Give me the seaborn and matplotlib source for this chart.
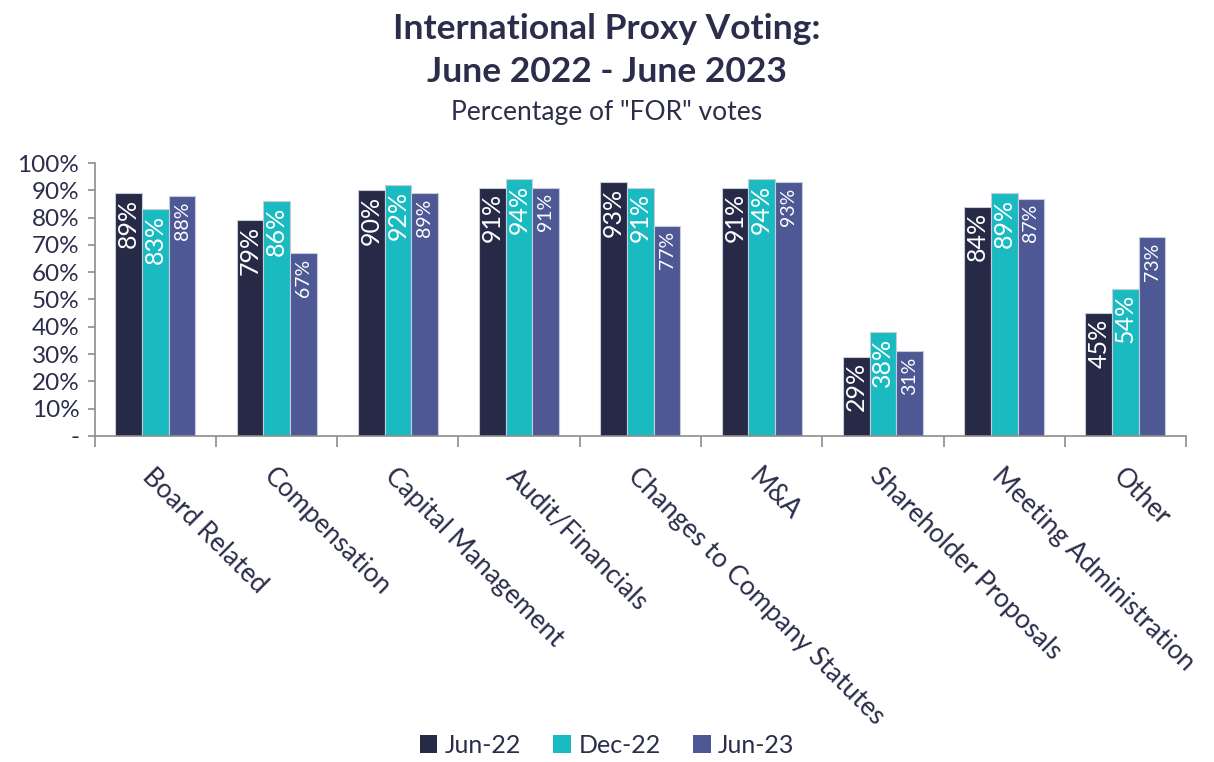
import matplotlib
matplotlib.use("Agg")
import matplotlib.pyplot as plt
import seaborn as sns
import pandas as pd
from matplotlib.ticker import FixedLocator

categories = ["Board Related", "Compensation", "Capital Management", "Audit/Financials",
              "Changes to Company Statutes", "M&A", "Shareholder Proposals",
              "Meeting Administration", "Other"]
series = ["Jun-22", "Dec-22", "Jun-23"]
jun22 = [89, 79, 90, 91, 93, 91, 29, 84, 45]
dec22 = [83, 86, 92, 94, 91, 94, 38, 89, 54]
jun23 = [88, 67, 89, 91, 77, 93, 31, 87, 73]
colors = ["#272A47", "#1ABBC0", "#4E5895"]
text_color = "#2B2D4A"

rows = []
for s, vals in zip(series, [jun22, dec22, jun23]):
    for c, v in zip(categories, vals):
        rows.append({"category": c, "series": s, "value": v})
df = pd.DataFrame(rows)

sns.set_theme(style="white")
plt.rcParams["font.family"] = ["Lato", "DejaVu Sans"]

fig = plt.figure(figsize=(12.14, 7.62), dpi=100)
ax = fig.add_axes([0.078, 0.428, 0.899, 0.358])

sns.barplot(data=df, x="category", y="value", hue="series", order=categories,
            hue_order=series, palette=colors, width=0.66, ax=ax,
            edgecolor="#C8CCDA", linewidth=0.8, saturation=1, legend=True)

label_sizes = [18, 18, 14]
for cont, fs in zip(ax.containers, label_sizes):
    for rect in cont:
        h = rect.get_height()
        x = rect.get_x() + rect.get_width() / 2
        ax.annotate(f"{h:.0f}%", (x, h), xytext=(0, -4), textcoords="offset points",
                    ha="center", va="top", rotation=90, color="white", fontsize=fs)

ax.set_ylim(0, 100)
ax.set_xlim(-0.5, len(categories) - 0.5)
ax.set_yticks(range(0, 101, 10))
ax.set_yticklabels(["-"] + [f"{v}%" for v in range(10, 101, 10)], fontsize=17.5, color=text_color)
ax.tick_params(axis="y", which="major", left=True, length=5, width=1.2, color="#8C8C8C", pad=6)
ax.set_xticks(range(len(categories)))
ax.set_xticklabels(categories, rotation=-45, ha="left", va="top", rotation_mode="anchor",
                   fontsize=19, color=text_color)
ax.tick_params(axis="x", which="major", length=0, pad=20)
ax.xaxis.set_minor_locator(FixedLocator([i - 0.5 for i in range(len(categories) + 1)]))
ax.tick_params(axis="x", which="minor", bottom=True, length=8, width=1.2, color="#8C8C8C")
ax.set_xlabel("")
ax.set_ylabel("")
for side in ["top", "right"]:
    ax.spines[side].set_visible(False)
for side in ["left", "bottom"]:
    ax.spines[side].set_color("#8C8C8C")
    ax.spines[side].set_linewidth(1.2)

handles, labels = ax.get_legend_handles_labels()
ax.legend_.remove()
fig.legend(handles, labels, loc="center", bbox_to_anchor=(0.5, 0.022), ncol=3, frameon=False,
           fontsize=18, handlelength=0.7, handleheight=0.7, handletextpad=0.3, columnspacing=1.3,
           labelcolor=text_color)
for h in fig.legends[0].legend_handles:
    h.set_edgecolor("none")

fig.text(0.5, 0.962, "International Proxy Voting:", ha="center", va="center",
         fontsize=25.5, fontweight="bold", color=text_color)
fig.text(0.5, 0.905, "June 2022 - June 2023", ha="center", va="center",
         fontsize=25.5, fontweight="bold", color=text_color)
fig.text(0.5, 0.853, 'Percentage of "FOR" votes', ha="center", va="center",
         fontsize=19, color=text_color)

fig.savefig("out.png", dpi=100)
